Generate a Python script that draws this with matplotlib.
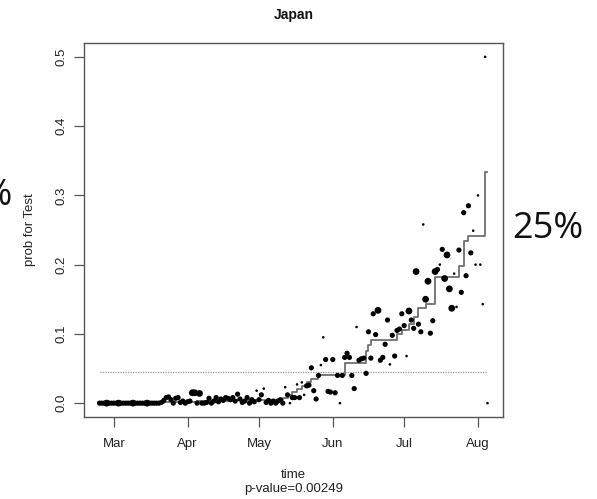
import matplotlib
matplotlib.use('Agg')
import matplotlib.pyplot as plt
import matplotlib.dates as mdates
import numpy as np
import pandas as pd

plt.rcParams['font.family'] = ['Liberation Sans', 'DejaVu Sans']

# ---------------- data ----------------
first_day = '2020-02-24'
prob_values = [
    # Feb 24 - Mar 21
    0.0, 0.0, 0.0, 0.0, 0.0, 0.0, 0.0, 0.0, 0.0, 0.0,
    0.0, 0.0, 0.0, 0.0, 0.0, 0.0, 0.0, 0.0, 0.0, 0.0,
    0.0, 0.0, 0.0, 0.0, 0.0, 0.0, 0.001,
    # Mar 22 -
    0.004, 0.008, 0.009, 0.005, 0.0, 0.007, 0.008, 0.001, 0.003, 0.0,
    0.002, 0.003, 0.015, 0.015, 0.0, 0.014, 0.0, 0.0, 0.001, 0.007,
    0.0, 0.003, 0.008, 0.002, 0.006, 0.004, 0.008, 0.007, 0.005, 0.008,
    0.003, 0.013, 0.006, 0.001, 0.003, 0.008, 0.0, 0.005, 0.002, 0.018,
    0.005, 0.012, 0.021, 0.001, 0.004, 0.0, 0.003, 0.0, 0.003, 0.005,
    0.0, 0.023, 0.012, 0.0, 0.008, 0.008, 0.027, 0.008, 0.030, 0.012,
    0.025, 0.026, 0.051, 0.018, 0.006, 0.040, 0.055, 0.095, 0.063, 0.017,
    0.016, 0.063, 0.015, 0.040, 0.0, 0.040, 0.066, 0.072, 0.066, 0.040,
    0.021, 0.110, 0.062, 0.064, 0.065, 0.043, 0.103, 0.065, 0.129, 0.099,
    0.134, 0.062, 0.066, 0.085, 0.120, 0.056, 0.098, 0.068, 0.105, 0.107,
    0.129, 0.112, 0.068, 0.133, 0.120, 0.108, 0.190, 0.114, 0.103, 0.258,
    0.150, 0.176, 0.101, 0.119, 0.190, 0.193, 0.200, 0.222, 0.180, 0.214,
    0.165, 0.137, 0.187, 0.139, 0.221, 0.160, 0.275, 0.184, 0.285, 0.217,
    0.249, 0.200, 0.300, 0.200, 0.143, 0.500, 0.0,
]
# relative weight of each daily point (1 small, 2 medium, 3 large)
point_weight = [
    2, 2, 2, 3, 2, 2, 2, 2, 3, 2,
    2, 2, 2, 2, 3, 2, 2, 2, 2, 2,
    3, 2, 2, 2, 2, 2, 2,
    2, 2, 2, 2, 2, 2, 2, 2, 2, 2,
    2, 2, 3, 3, 2, 3, 2, 2, 2, 2,
    2, 2, 2, 2, 2, 2, 2, 2, 2, 2,
    2, 2, 2, 2, 2, 2, 2, 2, 2, 1,
    2, 2, 1, 2, 2, 2, 2, 2, 2, 2,
    2, 1, 2, 1, 2, 2, 1, 2, 1, 1,
    2, 2, 2, 2, 2, 2, 1, 1, 2, 2,
    2, 2, 2, 2, 1, 2, 2, 2, 2, 2,
    2, 1, 2, 2, 2, 2, 2, 2, 2, 2,
    3, 2, 2, 2, 2, 1, 2, 2, 2, 2,
    2, 2, 1, 3, 2, 2, 3, 2, 2, 1,
    3, 3, 2, 2, 3, 2, 1, 2, 3, 3,
    3, 3, 1, 1, 2, 2, 2, 2, 2, 2,
    1, 1, 1, 1, 1, 1, 1,
]
step_dates = ['2020-02-24', '2020-03-22', '2020-04-05', '2020-04-20', '2020-05-09',
              '2020-05-11', '2020-05-13', '2020-05-15', '2020-05-17', '2020-05-19',
              '2020-05-21', '2020-05-23', '2020-05-26', '2020-06-06', '2020-06-15',
              '2020-06-16', '2020-06-17', '2020-06-28', '2020-06-30', '2020-07-03',
              '2020-07-05', '2020-07-07', '2020-07-10', '2020-07-14', '2020-07-24',
              '2020-07-26', '2020-07-28', '2020-08-04', '2020-08-05']
step_values = [0.0, 0.002, 0.003, 0.004, 0.005,
               0.008, 0.012, 0.016, 0.020, 0.025,
               0.030, 0.035, 0.041, 0.058, 0.075,
               0.084, 0.0915, 0.100, 0.106, 0.115,
               0.125, 0.137, 0.1435, 0.1816, 0.1975,
               0.2336, 0.2408, 0.3338, 0.3338]
baseline = 0.0448
month_ticks = ['2020-03-01', '2020-04-01', '2020-05-01', '2020-06-01', '2020-07-01', '2020-08-01']
y_ticks = [0.0, 0.1, 0.2, 0.3, 0.4, 0.5]
title = 'Japan'
xlabel = 'time\np-value=0.00249'
ylabel = 'prob for Test'

# ---------------- plot ----------------
dates = pd.date_range(first_day, periods=len(prob_values), freq='D')
sdates = pd.to_datetime(step_dates)

W, H = 597, 499
fig = plt.figure(figsize=(W / 100, H / 100), dpi=100)
ax = fig.add_axes([84 / W, 1 - 417 / H, (503 - 84) / W, (417 - 43) / H])

size_map = {1: 3.5, 2: 14.0, 3: 24.0}
sizes = [size_map[w] for w in point_weight]
ax.scatter(dates, prob_values, s=sizes, c='black', edgecolors='none', zorder=3)
ax.plot(sdates, step_values, drawstyle='steps-post', color='#707070', lw=1.3, zorder=2)
ax.plot([dates[0], dates[-1]], [baseline, baseline], color='#999999', lw=0.9,
        linestyle=(0, (1, 1.0)), zorder=1)

x0 = mdates.date2num(dates[0]); x1 = mdates.date2num(dates[-1])
pad = (x1 - x0) * 0.04
ax.set_xlim(x0 - pad, x1 + pad)
ax.set_ylim(-0.02, 0.52)

ax.set_xticks(pd.to_datetime(month_ticks))
ax.xaxis.set_major_formatter(mdates.DateFormatter('%b'))
ax.set_yticks(y_ticks)
ax.set_yticklabels([f'{v:.1f}' for v in y_ticks], rotation=90, va='center')

for sp in ax.spines.values():
    sp.set_color('#555555')
    sp.set_linewidth(1.0)
ax.tick_params(axis='both', length=7, width=0.9, color='#555555', labelsize=9.5,
               labelcolor='#222222')
ax.tick_params(axis='x', pad=8)
ax.tick_params(axis='y', pad=5)

ax.set_title(title, fontsize=10, fontweight='bold', pad=17, color='#111111')
ax.set_xlabel(xlabel, fontsize=9.5, labelpad=14, color='#222222', linespacing=1.2)
ax.set_ylabel(ylabel, fontsize=9.5, labelpad=14, color='#222222')

# slide overlay annotations (the left one is cut by the edge, as in the source slide)
fig.text(512 / W, 1 - 229 / H, '25%', fontsize=26, family='Open Sans',
         ha='left', va='center', color='#111111')
fig.text(13 / W, 1 - 196 / H, '15%', fontsize=26, family='Open Sans',
         ha='right', va='center', color='#111111')

fig.savefig('out.png', dpi=100)
